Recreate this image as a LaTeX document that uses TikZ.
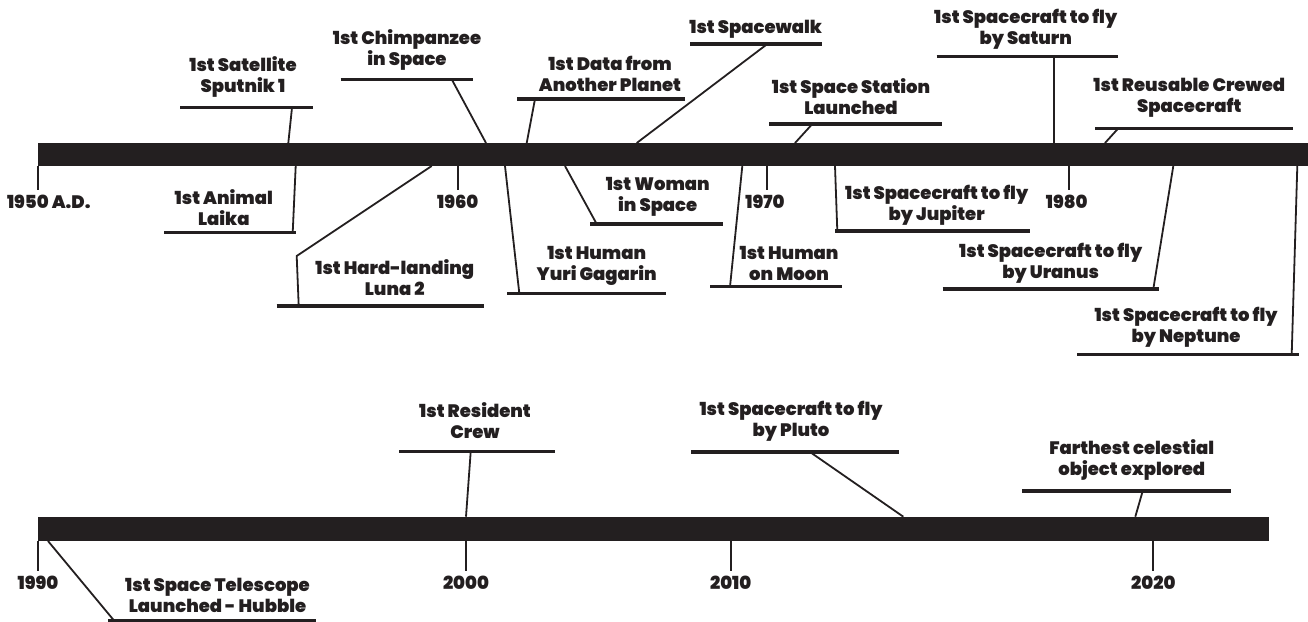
\documentclass[tikz,border=0pt]{standalone}
\usepackage{fontspec}
\setmainfont{Poppins}[BoldFont={Poppins Black}]
\definecolor{ink}{RGB}{35,31,32}
\begin{document}
\begin{tikzpicture}[x=1pt,y=-1pt,
 lbl/.style={font=\bfseries\fontsize{18}{21}\selectfont, align=center, inner sep=0pt, text=ink},
 shelf/.style={draw=ink, line width=3.3pt},
 conn/.style={draw=ink, line width=1.8pt},
 tickline/.style={draw=ink, line width=2pt}]
\useasboundingbox (0,0) rectangle (1308,621);
% bars
\fill[ink] (37.7,143) rectangle (1308,166);
\fill[ink] (37.7,516.7) rectangle (1269,541);
% top ticks
\coordinate (t50a) at (37.7,166); \coordinate (t50b) at (37.7,190);
\coordinate (t60a) at (457.7,166); \coordinate (t60b) at (457.7,190);
\coordinate (t70a) at (766.7,166); \coordinate (t70b) at (766.7,190);
\coordinate (t80a) at (1069,166); \coordinate (t80b) at (1069,190);
\draw[tickline] (t50a) -- (t50b); \draw[tickline] (t60a) -- (t60b);
\draw[tickline] (t70a) -- (t70b); \draw[tickline] (t80a) -- (t80b);
\node[lbl] (y50) at (48.8,202) {1950 A.D.};
\node[lbl] (y60) at (457.7,202) {1960};
\node[lbl] (y70) at (765,202) {1970};
\node[lbl] (y80) at (1066.7,202) {1980};
% bottom ticks
\coordinate (t90a) at (38,541); \coordinate (t90b) at (38,570.7);
\coordinate (t00a) at (466,541); \coordinate (t00b) at (466,570.7);
\coordinate (t10a) at (730.7,541); \coordinate (t10b) at (730.7,570.7);
\coordinate (t20a) at (1153.3,541); \coordinate (t20b) at (1153.3,570.7);
\draw[tickline] (t90a) -- (t90b); \draw[tickline] (t00a) -- (t00b);
\draw[tickline] (t10a) -- (t10b); \draw[tickline] (t20a) -- (t20b);
\node[lbl] (y90) at (38,583) {1990};
\node[lbl] (y00) at (466,583) {2000};
\node[lbl] (y10) at (730.7,583) {2010};
\node[lbl] (y20) at (1153.3,583) {2020};

% ---- above top bar
\node[lbl] (sput) at (243,77) {1st Satellite\\Sputnik 1};
\coordinate (sputL) at (180,107.7); \coordinate (sputR) at (313.3,107.7);
\coordinate (sputS) at (292,107.7); \coordinate (sputB) at (288.3,143);
\draw[shelf] (sputL) -- (sputR); \draw[conn] (sputS) -- (sputB);

\node[lbl] (chimp) at (407,49.5) {1st Chimpanzee\\in Space};
\coordinate (chimpL) at (340.7,79.3); \coordinate (chimpR) at (473.3,79.3);
\coordinate (chimpS) at (451.7,79.3); \coordinate (chimpB) at (486,143);
\draw[shelf] (chimpL) -- (chimpR); \draw[conn] (chimpS) -- (chimpB);

\node[lbl] (data) at (610,73.7) {1st Data from\\Another Planet};
\coordinate (dataL) at (517.3,99); \coordinate (dataR) at (685.3,99);
\coordinate (dataS) at (535,99); \coordinate (dataB) at (526.7,143);
\draw[shelf] (dataL) -- (dataR); \draw[conn] (dataS) -- (dataB);

\node[lbl] (walk) at (755.7,29.3) {1st Spacewalk};
\coordinate (walkL) at (690,44); \coordinate (walkR) at (822.3,44);
\coordinate (walkS) at (767.3,44); \coordinate (walkB) at (636.7,143);
\draw[shelf] (walkL) -- (walkR); \draw[conn] (walkS) -- (walkB);

\node[lbl] (stat) at (851,97) {1st Space Station\\Launched};
\coordinate (statL) at (769.3,124); \coordinate (statR) at (942.3,124);
\coordinate (statS) at (812.3,124); \coordinate (statB) at (795,143);
\draw[shelf] (statL) -- (statR); \draw[conn] (statS) -- (statB);

\node[lbl] (sat) at (1025.7,28.8) {1st Spacecraft to fly\\by Saturn};
\coordinate (satL) at (936.7,56.7); \coordinate (satR) at (1117.7,56.7);
\coordinate (satS) at (1054.3,56.7); \coordinate (satB) at (1054.3,143);
\draw[shelf] (satL) -- (satR); \draw[conn] (satS) -- (satB);

\node[lbl] (reus) at (1189.3,97.8) {1st Reusable Crewed\\Spacecraft};
\coordinate (reusL) at (1095,128.3); \coordinate (reusR) at (1292.7,128.3);
\coordinate (reusS) at (1118.3,128.3); \coordinate (reusB) at (1105,143);
\draw[shelf] (reusL) -- (reusR); \draw[conn] (reusS) -- (reusB);

% ---- below top bar
\node[lbl] (laika) at (223.8,207.8) {1st Animal\\Laika};
\coordinate (laikaL) at (164,232.7); \coordinate (laikaR) at (296,232.7);
\coordinate (laikaB) at (295.7,166); \coordinate (laikaS) at (292.7,232.7);
\draw[shelf] (laikaL) -- (laikaR); \draw[conn] (laikaB) -- (laikaS);

\node[lbl] (luna) at (394.7,277.5) {1st Hard-landing\\Luna 2};
\coordinate (lunaL) at (276.7,306); \coordinate (lunaR) at (484.3,306);
\coordinate (lunaB) at (431.7,166); \coordinate (lunaK) at (296.7,256); \coordinate (lunaS) at (298.7,306);
\draw[shelf] (lunaL) -- (lunaR); \draw[conn,line join=miter] (lunaB) -- (lunaK) -- (lunaS);

\node[lbl] (gag) at (596.7,265.5) {1st Human\\Yuri Gagarin};
\coordinate (gagL) at (507.3,293.3); \coordinate (gagR) at (666,293.3);
\coordinate (gagB) at (505,166); \coordinate (gagS) at (519.3,293.3);
\draw[shelf] (gagL) -- (gagR); \draw[conn] (gagB) -- (gagS);

\node[lbl] (woman) at (657.7,197) {1st Woman\\in Space};
\coordinate (womanL) at (590.3,224); \coordinate (womanR) at (722.7,224);
\coordinate (womanB) at (565,166); \coordinate (womanS) at (596.7,224);
\draw[shelf] (womanL) -- (womanR); \draw[conn] (womanB) -- (womanS);

\node[lbl] (moon) at (789,263.2) {1st Human\\on Moon};
\coordinate (moonL) at (710,286.7); \coordinate (moonR) at (842.3,286.7);
\coordinate (moonB) at (742.3,166); \coordinate (moonS) at (730,286.7);
\draw[shelf] (moonL) -- (moonR); \draw[conn] (moonB) -- (moonS);

\node[lbl] (jup) at (936.7,204.8) {1st Spacecraft to fly\\by Jupiter};
\coordinate (jupL) at (835,231); \coordinate (jupR) at (1030,231);
\coordinate (jupB) at (835,166); \coordinate (jupS) at (837.3,231);
\draw[shelf] (jupL) -- (jupR); \draw[conn] (jupB) -- (jupS);

\node[lbl] (ura) at (1050.7,263.2) {1st Spacecraft to fly\\by Uranus};
\coordinate (uraL) at (942.7,289); \coordinate (uraR) at (1159,289);
\coordinate (uraB) at (1173.3,166); \coordinate (uraS) at (1153.3,289);
\draw[shelf] (uraL) -- (uraR); \draw[conn] (uraB) -- (uraS);

\node[lbl] (nep) at (1186,327.5) {1st Spacecraft to fly\\by Neptune};
\coordinate (nepL) at (1077.3,354.3); \coordinate (nepR) at (1299.3,354.3);
\coordinate (nepB) at (1297.3,166); \coordinate (nepS) at (1291.7,354.3);
\draw[shelf] (nepL) -- (nepR); \draw[conn] (nepB) -- (nepS);

% ---- bottom bar
\node[lbl] (hub) at (217.5,595.5) {1st Space Telescope\\Launched - Hubble};
\coordinate (hubL) at (108,620.5); \coordinate (hubR) at (316,620.5);
\coordinate (hubB) at (48,541); \coordinate (hubS) at (114,620.5);
\draw[shelf] (hubL) -- (hubR); \draw[conn] (hubB) -- (hubS);

\node[lbl] (res) at (475,421) {1st Resident\\Crew};
\coordinate (resL) at (399,451.7); \coordinate (resR) at (555,451.7);
\coordinate (resS) at (470.7,451.7); \coordinate (resB) at (466,516.7);
\draw[shelf] (resL) -- (resR); \draw[conn] (resS) -- (resB);

\node[lbl] (plu) at (791,421) {1st Spacecraft to fly\\by Pluto};
\coordinate (pluL) at (691,452); \coordinate (pluR) at (899,452);
\coordinate (pluS) at (810,452); \coordinate (pluB) at (903.3,516.7);
\draw[shelf] (pluL) -- (pluR); \draw[conn] (pluS) -- (pluB);

\node[lbl] (far) at (1131.7,459.7) {Farthest celestial\\object explored};
\coordinate (farL) at (1022,491); \coordinate (farR) at (1230.7,491);
\coordinate (farS) at (1142.7,491); \coordinate (farB) at (1135.3,516.7);
\draw[shelf] (farL) -- (farR); \draw[conn] (farS) -- (farB);
\end{tikzpicture}
\end{document}
